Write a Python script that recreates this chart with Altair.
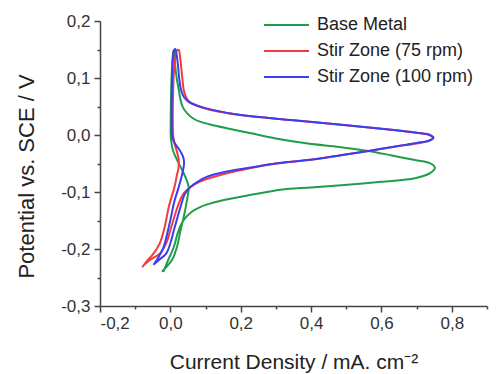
import altair as alt
import pandas as pd

series_names = ["Base Metal", "Stir Zone (75 rpm)", "Stir Zone (100 rpm)"]
series_colors = ["#1f9e4a", "#f23c3c", "#3c3cf0"]

green_x = [-0.020, -0.008, 0.010, 0.022, 0.038, 0.060, 0.086, 0.120, 0.152, 0.229, 0.314, 0.400, 0.486, 0.600, 0.695, 0.738, 0.752, 0.740, 0.695, 0.630, 0.563, 0.480, 0.391, 0.300, 0.229, 0.160, 0.110, 0.086, 0.065, 0.048, 0.036, 0.029, 0.024, 0.018, 0.014, 0.012, 0.010, 0.007, 0.004, 0.002, 0.001, 0.001, 0.002, 0.008, 0.020, 0.033, 0.045, 0.052, 0.047, 0.038, 0.028, 0.019, 0.005, -0.012, -0.024]
green_y = [-0.240, -0.222, -0.196, -0.170, -0.149, -0.135, -0.126, -0.119, -0.114, -0.105, -0.096, -0.092, -0.088, -0.082, -0.076, -0.067, -0.058, -0.050, -0.044, -0.036, -0.028, -0.021, -0.015, -0.006, 0.003, 0.012, 0.019, 0.023, 0.029, 0.038, 0.048, 0.061, 0.079, 0.100, 0.120, 0.135, 0.149, 0.140, 0.110, 0.070, 0.030, 0.000, -0.010, -0.028, -0.045, -0.061, -0.077, -0.091, -0.115, -0.144, -0.170, -0.196, -0.219, -0.232, -0.240]

red_x = [-0.075, -0.055, -0.029, -0.012, 0.000, 0.012, 0.024, 0.036, 0.048, 0.070, 0.095, 0.150, 0.229, 0.300, 0.391, 0.480, 0.563, 0.640, 0.700, 0.735, 0.748, 0.738, 0.700, 0.600, 0.486, 0.350, 0.200, 0.114, 0.075, 0.057, 0.045, 0.038, 0.034, 0.031, 0.027, 0.024, 0.019, 0.014, 0.010, 0.008, 0.007, 0.007, 0.008, 0.012, 0.019, 0.024, 0.023, 0.018, 0.013, -0.004, -0.016, -0.030, -0.048, -0.065, -0.080]
red_y = [-0.228, -0.218, -0.208, -0.190, -0.167, -0.142, -0.120, -0.104, -0.096, -0.086, -0.079, -0.069, -0.058, -0.050, -0.044, -0.036, -0.028, -0.020, -0.015, -0.010, -0.005, 0.000, 0.004, 0.011, 0.018, 0.026, 0.035, 0.044, 0.051, 0.057, 0.066, 0.079, 0.100, 0.118, 0.140, 0.149, 0.149, 0.135, 0.110, 0.080, 0.050, 0.020, 0.000, -0.015, -0.030, -0.045, -0.058, -0.072, -0.088, -0.125, -0.161, -0.190, -0.208, -0.220, -0.232]

blue_x = [-0.045, -0.030, -0.012, 0.000, 0.010, 0.020, 0.029, 0.040, 0.057, 0.080, 0.105, 0.160, 0.229, 0.300, 0.391, 0.480, 0.563, 0.640, 0.700, 0.735, 0.747, 0.737, 0.700, 0.600, 0.486, 0.350, 0.200, 0.114, 0.075, 0.052, 0.038, 0.030, 0.025, 0.022, 0.018, 0.014, 0.010, 0.007, 0.005, 0.004, 0.004, 0.005, 0.012, 0.025, 0.036, 0.039, 0.035, 0.024, 0.012, 0.000, -0.019, -0.030, -0.038, -0.048]
blue_y = [-0.226, -0.218, -0.208, -0.190, -0.167, -0.145, -0.126, -0.105, -0.091, -0.081, -0.073, -0.064, -0.057, -0.050, -0.044, -0.036, -0.028, -0.020, -0.014, -0.010, -0.005, 0.000, 0.004, 0.011, 0.018, 0.026, 0.035, 0.045, 0.052, 0.058, 0.067, 0.080, 0.100, 0.120, 0.140, 0.151, 0.148, 0.130, 0.100, 0.060, 0.020, -0.003, -0.014, -0.025, -0.038, -0.048, -0.065, -0.091, -0.115, -0.149, -0.196, -0.210, -0.219, -0.228]

x_ticks = [-0.2, -0.1, 0.0, 0.1, 0.2, 0.3, 0.4, 0.5, 0.6, 0.7, 0.8, 0.9]
y_ticks = [-0.3, -0.25, -0.2, -0.15, -0.1, -0.05, 0.0, 0.05, 0.1, 0.15, 0.2]

frames = []
for name, xs, ys in [(series_names[0], green_x, green_y),
                     (series_names[1], red_x, red_y),
                     (series_names[2], blue_x, blue_y)]:
    frames.append(pd.DataFrame({"x": xs, "y": ys, "series": name, "i": range(len(xs))}))
df = pd.concat(frames, ignore_index=True)

FONT = "Liberation Sans"
label_fmt = "replace(replace(format(datum.value, '.1f'), '.', ','), '\u2212', '-')"

x_axis = alt.Axis(
    values=x_ticks,
    labelExpr=f"abs(round(datum.value*10)) % 2 == 1 ? '' : {label_fmt}",
    tickSize={"condition": {"test": "abs(round(datum.value*10)) % 2 == 1", "value": 3}, "value": 6},
    grid=False, domainColor="#444", tickColor="#444", domainWidth=1.5, tickWidth=1.5,
    labelFont=FONT, labelFontSize=17, labelColor="#333", labelPadding=3,
    title="Current Density / mA. cm\u207b\u00b2", titleFont=FONT, titleFontSize=21,
    titleFontWeight="normal", titleColor="#222", titleY=62, titleBaseline="alphabetic",
)
y_axis = alt.Axis(
    values=y_ticks,
    labelExpr=f"abs(round(datum.value*20)) % 2 == 1 ? '' : {label_fmt}",
    tickSize={"condition": {"test": "abs(round(datum.value*20)) % 2 == 1", "value": 3}, "value": 6},
    grid=False, domainColor="#444", tickColor="#444", domainWidth=1.5, tickWidth=1.5,
    labelFont=FONT, labelFontSize=17, labelColor="#333", labelPadding=4,
    title="Potential vs. SCE / V", titleFont=FONT, titleFontSize=22,
    titleFontWeight="normal", titleColor="#222", titleX=-67, titleY=155, titleBaseline="alphabetic",
)

chart = alt.Chart(df).mark_line(strokeWidth=2, interpolate="catmull-rom").encode(
    x=alt.X("x:Q", scale=alt.Scale(domain=[-0.2, 0.9], nice=False, zero=False), axis=x_axis),
    y=alt.Y("y:Q", scale=alt.Scale(domain=[-0.3, 0.2], nice=False, zero=False), axis=y_axis),
    color=alt.Color("series:N", scale=alt.Scale(domain=series_names, range=series_colors),
                    sort=series_names,
                    legend=alt.Legend(title=None, orient="none", legendX=176.5, legendY=-6,
                                      symbolType="M-2.5,0L2.5,0", symbolSize=324, symbolStrokeWidth=2,
                                      labelFont=FONT, labelFontSize=18, labelColor="#222",
                                      labelOffset=20.5, rowPadding=7, padding=0)),
    order=alt.Order("i:Q"),
).properties(
    width=387, height=285,
    autosize=alt.AutoSizeParams(type="none"),
    padding={"left": 92, "top": 13, "right": 2, "bottom": 70},
).configure_view(strokeWidth=0)

chart.save("out.html", embed_options={"renderer": "svg", "actions": False})
